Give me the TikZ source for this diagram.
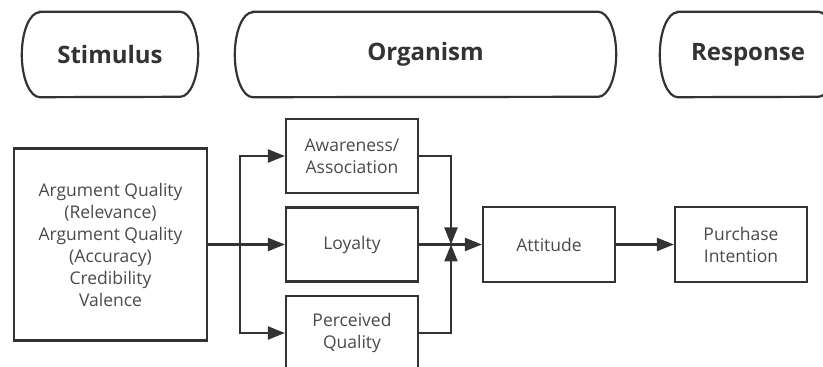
\documentclass[tikz,border=0pt]{standalone}
\usepackage{fontspec}
\setmainfont{Open Sans}
\usetikzlibrary{arrows.meta,calc}
\definecolor{ln}{HTML}{333333}
\definecolor{tx}{HTML}{4A4A4A}
\begin{document}
\begin{tikzpicture}[x=1pt,y=1pt,
  box/.style={draw=ln,line width=2.2pt,fill=white,minimum width=132pt,minimum height=74pt,inner sep=0pt,
    align=center,text=tx,font=\fontsize{17.5}{22}\selectfont},
  pill/.style={minimum width=176pt,minimum height=85pt,inner sep=0pt,text=ln,font=\fontsize{24}{28}\selectfont\bfseries},
  pillline/.style={draw=ln,line width=2.2pt},
  conn/.style={draw=ln,line width=2.2pt},
  arr/.style={conn,-{Triangle[length=17pt,width=13pt]}}]
\useasboundingbox (0,0) rectangle (823,367);
% top pills
\node[pill] (stim) at (110,312.5) {Stimulus};
\node[pill,minimum width=381pt] (org) at (425.5,312.5) {Organism};
\node[pill] (resp) at (748,312.5) {Response};
\foreach \n in {stim,org,resp}{
  \draw[pillline] ($(\n.north west)+(18,0)$) -- ($(\n.north east)+(-18,0)$)
    arc[start angle=90,end angle=-90,x radius=18,y radius=42.5]
    -- ($(\n.south west)+(18,0)$)
    arc[start angle=270,end angle=90,x radius=18,y radius=42.5] -- cycle;
}
% boxes
\node[box,minimum width=193pt,minimum height=192pt] (stimbox) at (110.5,122.5)
  {Argument Quality\\(Relevance)\\Argument Quality\\(Accuracy)\\Credibility\\Valence};
\node[box] (aware) at (352,211) {Awareness/\\Association};
\node[box] (loyal) at (352,122.5) {Loyalty};
\node[box] (perc) at (352,34) {Perceived\\Quality};
\node[box,minimum height=75pt] (att) at (549,122.5) {Attitude};
\node[box,minimum height=75pt] (pi) at (741,122.5) {Purchase\\Intention};
% connectors
\coordinate (split) at (240,122.5);
\coordinate (merge) at (451,122.5);
\draw[conn] (stimbox.east) -- (split);
\draw[arr] (split) |- (aware.west);
\draw[arr] (split) -- (loyal.west);
\draw[arr] (split) |- (perc.west);
\draw[arr] (aware.east) -| (merge);
\draw[arr] (perc.east) -| (merge);
\draw[arr] (loyal.east) -- (att.west);
\draw[arr] (att.east) -- (pi.west);
\end{tikzpicture}
\end{document}
